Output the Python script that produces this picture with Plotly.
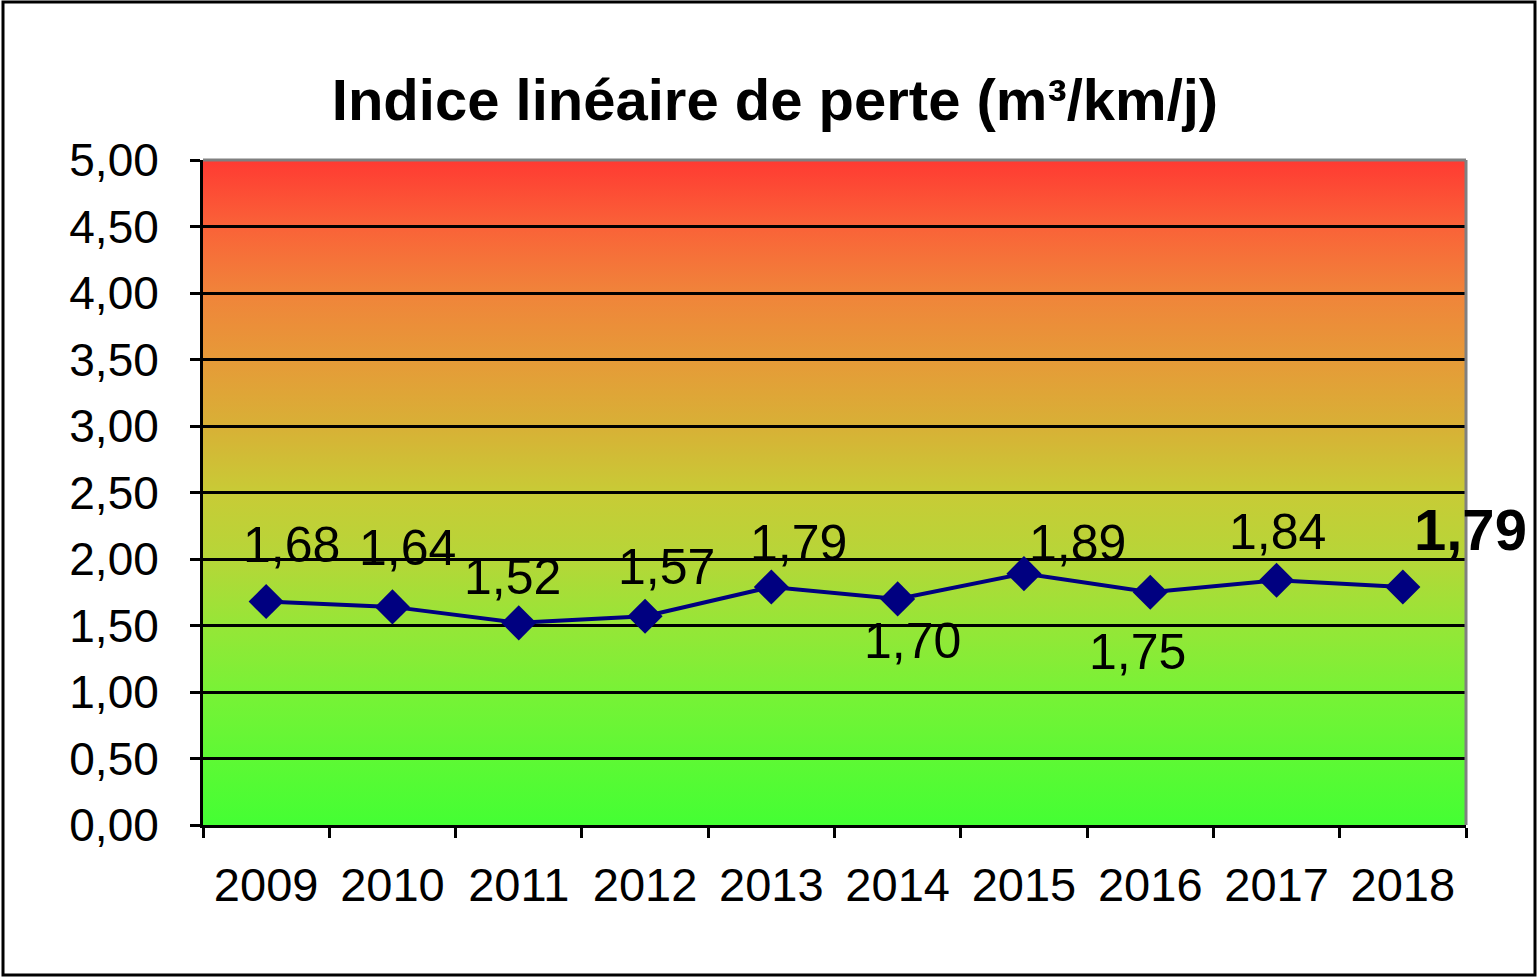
import base64
import plotly.graph_objects as go

years = ["2009", "2010", "2011", "2012", "2013", "2014", "2015", "2016", "2017", "2018"]
ilp = [1.68, 1.64, 1.52, 1.57, 1.79, 1.70, 1.89, 1.75, 1.84, 1.79]
y_ticks = [0, 0.5, 1.0, 1.5, 2.0, 2.5, 3.0, 3.5, 4.0, 4.5, 5.0]

# label offsets (pixels) relative to each point
label_dx = [25, 15, -6, 21, 27, 15, 54, -13, 1, 68]
label_dy = [57, 59, 46, 49, 44, -42, 31, -60, 48, 57]

# background gradient stops (fraction from top, colour)
grad_stops = [(0.0, "#FF3A32"), (0.1, "#FA6238"), (0.2, "#F0843A"), (0.3, "#E69A38"),
              (0.4, "#D8B036"), (0.5, "#C8CB36"), (0.6, "#B6D638"), (0.7, "#96E637"),
              (0.8, "#78F236"), (1.0, "#44FF33")]

W, H = 1537, 978
L, R, T, B = 203, 71, 160, 153
pw, ph = W - L - R, H - T - B

stops_svg = "".join(
    f'<stop offset="{f * 100:.1f}%" stop-color="{c}"/>' for f, c in grad_stops)
svg = ('<svg xmlns="http://www.w3.org/2000/svg" width="100" height="100" '
       'preserveAspectRatio="none" viewBox="0 0 100 100">'
       '<defs><linearGradient id="g" x1="0" y1="0" x2="0" y2="1">'
       f'{stops_svg}</linearGradient></defs>'
       '<rect x="0" y="0" width="100" height="100" fill="url(#g)"/></svg>')
svg_uri = "data:image/svg+xml;base64," + base64.b64encode(svg.encode()).decode()

xi = list(range(len(years)))

fig = go.Figure()
fig.add_trace(go.Scatter(
    x=xi, y=ilp, mode="lines+markers",
    line=dict(color="#000080", width=4),
    marker=dict(symbol="diamond", size=27, color="#000080"),
    showlegend=False, cliponaxis=False, hoverinfo="y"))

annotations = []
for i, v in enumerate(ilp):
    last = i == len(years) - 1
    annotations.append(dict(
        x=xi[i], y=v, xref="x", yref="y", text=f"{v:.2f}".replace(".", ","),
        showarrow=False, xshift=label_dx[i], yshift=label_dy[i],
        xanchor="center", yanchor="middle",
        font=dict(family="Liberation Sans, Arial", size=58 if last else 50,
                  color="black", weight=700 if last else 400)))

shapes = [
    dict(type="line", xref="paper", yref="paper", x0=0, x1=1, y0=1, y1=1,
         line=dict(color="#808080", width=3)),
    dict(type="line", xref="paper", yref="paper", x0=1, x1=1, y0=0, y1=1,
         line=dict(color="#808080", width=3)),
    dict(type="rect", xref="paper", yref="paper",
         x0=(3 - L) / pw, x1=(1535 - L) / pw,
         y0=(H - B - 975) / ph, y1=(H - B - 2) / ph,
         line=dict(color="black", width=3), layer="below"),
]

fig.update_layout(
    width=W, height=H,
    margin=dict(l=L, r=R, t=T, b=B),
    paper_bgcolor="white", plot_bgcolor="rgba(0,0,0,0)",
    separators=", ",
    font=dict(family="Liberation Sans, Arial", color="black"),
    title=dict(text="<b>Indice linéaire de perte (m³/km/j)</b>",
               x=775 / W, xanchor="center", y=1 - 100 / H, yanchor="middle",
               font=dict(size=58, family="Liberation Sans, Arial", color="black")),
    images=[dict(source=svg_uri, xref="paper", yref="paper", x=0, y=1,
                 sizex=1, sizey=1, xanchor="left", yanchor="top",
                 sizing="stretch", layer="below")],
    xaxis=dict(range=[-0.5, len(years) - 0.5], tickvals=xi, ticktext=years,
               ticks="", showline=True, linecolor="black", linewidth=3,
               showgrid=False, zeroline=False, tickfont=dict(size=47),
               ticklabelstandoff=17, fixedrange=True,
               minor=dict(tickvals=[i - 0.5 for i in range(len(years) + 1)],
                          ticks="outside", ticklen=10, tickwidth=3,
                          tickcolor="black", showgrid=False)),
    yaxis=dict(range=[0, 5], tickvals=y_ticks, tickformat=".2f",
               ticks="outside", ticklen=10, tickwidth=3, tickcolor="black",
               showline=True, linecolor="black", linewidth=3,
               showgrid=True, gridcolor="black", gridwidth=3,
               tickfont=dict(size=46), ticklabelstandoff=22,
               zeroline=False, fixedrange=True),
    annotations=annotations,
    shapes=shapes,
)

fig.write_html("out.html", post_script="document.body.style.margin='0';",
               config={"displayModeBar": False})
